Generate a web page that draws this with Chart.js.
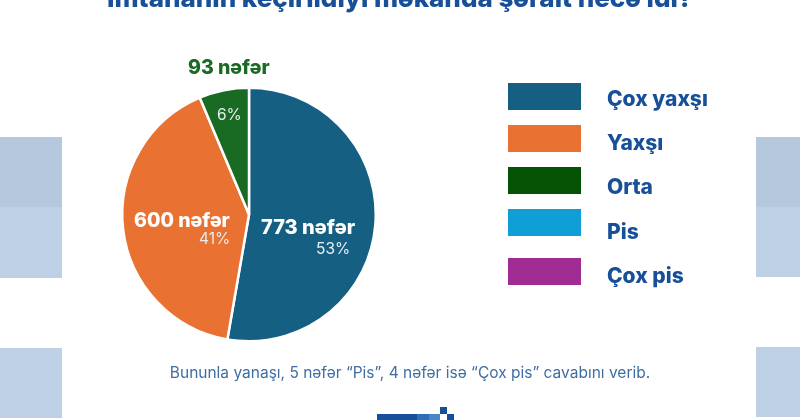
<!DOCTYPE html>
<html>
<head>
<meta charset="utf-8">
<script src="https://cdn.jsdelivr.net/npm/chart.js@4"></script>
<style>
    html, body { margin: 0; padding: 0; background: #fff; }
    body { width: 800px; height: 420px; position: relative; overflow: hidden; font-family: Inter, sans-serif; }
    #chart { position: absolute; left: 0; top: 0; }
    .tile { position: absolute; background: #bdd0e6; }
    .tile.dark { background: #b5c8de; }
    .txt { position: absolute; white-space: nowrap; line-height: 1; }
    #title { left: 0; width: 800px; top: -15px; text-align: center; font-size: 26px; font-weight: 800; color: #174f98; }
    #note { left: 0; width: 820px; top: 365px; text-align: center; font-size: 15.5px; color: #3f6ea3; }
    .count { font-size: 20px; font-weight: 800; color: #fff; }
    .pct { font-size: 15.5px; color: #e8eef2; }
    .legend-box { position: absolute; left: 508px; width: 73px; height: 27px; }
    .legend-label { left: 607px; font-size: 21px; font-weight: 800; color: #174f98; }
    .logo { position: absolute; background: #174f98; }
</style>
</head>
<body>
<div class="tile dark" style="left:0;top:137px;width:62px;height:70px"></div>
<div class="tile" style="left:0;top:207px;width:62px;height:71px"></div>
<div class="tile" style="left:0;top:348px;width:62px;height:70px"></div>
<div class="tile dark" style="left:756px;top:137px;width:44px;height:70px"></div>
<div class="tile" style="left:756px;top:207px;width:44px;height:70px"></div>
<div class="tile" style="left:756px;top:347px;width:44px;height:70px"></div>

<canvas id="chart" width="800" height="420"></canvas>

<div id="title" class="txt">İmtahanın keçirildiyi məkanda şərait necə idi?</div>
<div id="labels"></div>
<div id="legend"></div>
<div id="note" class="txt"></div>

<div class="logo" style="left:377px;top:414px;width:40px;height:6px"></div>
<div class="logo" style="left:417px;top:414px;width:12px;height:6px;background:#2f6db5"></div>
<div class="logo" style="left:429px;top:414px;width:11px;height:6px;background:#4a86c8"></div>
<div class="logo" style="left:440px;top:407px;width:7px;height:7px"></div>
<div class="logo" style="left:447px;top:414px;width:7px;height:6px"></div>

<script>
'use strict';

// ── Data ───────────────────────────────────────────────────
const categories = ['Çox yaxşı', 'Yaxşı', 'Orta', 'Pis', 'Çox pis'];
const counts = [773, 600, 93, 0, 0];   // the last two are not drawn in the pie
const percents = [53, 41, 6];
const noteCounts = [5, 4];

const SLICE_COLORS = ['#156082', '#e97132', '#196b24', '#0f9ed5', '#a02b93'];
const LEGEND_COLORS = ['#156082', '#e97132', '#045204', '#0f9ed5', '#a02b93'];
const BOX_TOPS = [83, 125, 167, 209, 258];
const LABEL_TOPS = [88, 132, 176, 221, 265];

// ── Pie ────────────────────────────────────────────────────
new Chart(document.getElementById('chart'), {
    type: 'pie',
    data: {
        labels: categories,
        datasets: [{
            data: counts,
            backgroundColor: SLICE_COLORS,
            borderColor: '#fff',
            borderWidth: 2.5,
        }],
    },
    options: {
        responsive: false,
        animation: false,
        layout: { padding: { left: 121, right: 423, top: 86, bottom: 77 } },
        plugins: {
            legend: { display: false },
            tooltip: { enabled: false },
        },
    },
});

// ── Slice labels ───────────────────────────────────────────
function addText(parent, cls, text, css) {
    const el = document.createElement('div');
    el.className = 'txt ' + cls;
    el.textContent = text;
    el.style.cssText = css;
    parent.appendChild(el);
}

const labels = document.getElementById('labels');
addText(labels, 'count', `${counts[0]} nəfər`, 'left:261px;top:217px');
addText(labels, 'pct', `${percents[0]}%`, 'left:316px;top:241px');
addText(labels, 'count', `${counts[1]} nəfər`, 'left:134px;top:211px;font-size:19.5px');
addText(labels, 'pct', `${percents[1]}%`, 'left:199px;top:231px');
addText(labels, 'count', `${counts[2]} nəfər`, 'left:188px;top:58px;font-size:19.5px;color:#196b24');
addText(labels, 'pct', `${percents[2]}%`, 'left:217px;top:107px');

// ── Legend ─────────────────────────────────────────────────
const legend = document.getElementById('legend');
categories.forEach((name, i) => {
    const box = document.createElement('div');
    box.className = 'legend-box';
    box.style.top = BOX_TOPS[i] + 'px';
    box.style.background = LEGEND_COLORS[i];
    legend.appendChild(box);
    addText(legend, 'legend-label', name, `top:${LABEL_TOPS[i]}px`);
});

document.getElementById('note').textContent =
    `Bununla yanaşı, ${noteCounts[0]} nəfər “${categories[3]}”, ${noteCounts[1]} nəfər isə “${categories[4]}” cavabını verib.`;
</script>
</body>
</html>
